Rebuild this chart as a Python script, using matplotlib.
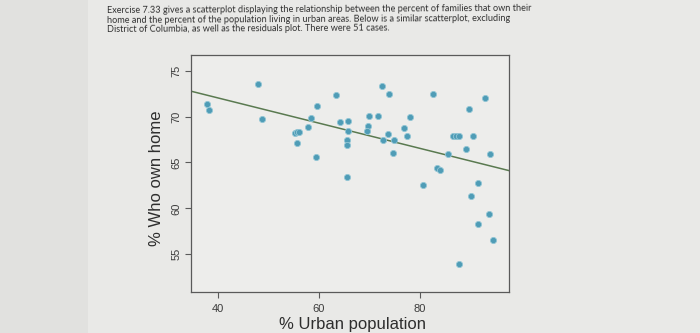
import matplotlib.pyplot as plt
import matplotlib.patches as mpatches
import numpy as np

# header text above the chart
header_lines = [
    "Exercise 7.33 gives a scatterplot displaying the relationship between the percent of families that own their",
    "home and the percent of the population living in urban areas. Below is a similar scatterplot, excluding",
    "District of Columbia, as well as the residuals plot. There were 51 cases.",
]

# % urban population vs % who own home (51 states)
urban = [37.8, 38.1, 47.8, 48.7, 55.3, 55.7, 56.1, 55.6, 57.8, 58.4,
         59.6, 59.5, 63.3, 64.2, 65.7, 65.8, 65.6, 65.6, 65.6, 70.0,
         69.8, 69.6, 71.8, 72.5, 73.8, 72.6, 73.6, 74.9, 74.6, 76.8,
         77.4, 78.0, 80.7, 82.6, 83.4, 84.1, 85.6, 86.5, 87.2, 87.8,
         89.2, 89.8, 90.5, 90.2, 91.5, 91.6, 93.0, 93.8, 94.0, 94.6,
         87.7]
own_home = [71.4, 70.7, 73.5, 69.7, 68.2, 68.3, 68.3, 67.1, 68.9, 69.8,
            71.2, 65.6, 72.3, 69.4, 69.5, 68.4, 67.4, 66.9, 63.4, 70.1,
            69.0, 68.4, 70.1, 73.3, 72.4, 67.5, 68.1, 67.5, 66.0, 68.8,
            67.9, 69.9, 62.6, 72.5, 64.4, 64.2, 65.9, 67.9, 67.9, 67.9,
            66.5, 70.8, 67.9, 61.3, 62.8, 58.3, 72.0, 59.4, 65.9, 56.6,
            54.0]

# least squares line
intercept = 77.5
slope = -0.137

x_ticks = [40, 60, 80]
y_ticks = [55, 60, 65, 70, 75]

plt.rcParams['font.family'] = ['Liberation Sans', 'DejaVu Sans']

fig = plt.figure(figsize=(7, 3.33), dpi=100)
fig.patch.set_facecolor('#e9e9e7')
# slightly darker strip on the left of the photo
fig.patches.append(mpatches.Rectangle((0, 0), 0.125, 1, transform=fig.transFigure,
                                      facecolor='#e1e1df', edgecolor='none', zorder=0))

for i, line in enumerate(header_lines):
    fig.text(107 / 700, 1 - (9 + i * 10) / 333, line, fontsize=6.6, color='#303030',
             family='Lato', va='center', ha='left', rotation=0.3)

ax = fig.add_axes([191 / 700, 1 - 292 / 333, 318 / 700, 237 / 333])
ax.set_facecolor('#ededeb')

ax.scatter(urban, own_home, s=20, color='#4f9cb6', edgecolors='#93c6d5', linewidths=0.6, zorder=3)

ax.set_xlim(34.6, 97.7)
ax.set_ylim(50.9, 76.7)
xs = np.array(ax.get_xlim())
ax.plot(xs, intercept + slope * xs, color='#5a7a50', lw=1.1, zorder=2)

for s in ax.spines.values():
    s.set_color('#5a5a5a')
    s.set_linewidth(0.9)

ax.set_xticks(x_ticks)
ax.set_yticks(y_ticks)
ax.tick_params(axis='both', direction='out', length=4.5, width=0.8, color='#5a5a5a',
               labelsize=8, labelcolor='#3c3c3c')
ax.tick_params(axis='x', pad=4.5)
ax.tick_params(axis='y', pad=2.5)
for lab in ax.get_yticklabels():
    lab.set_rotation(90)
    lab.set_va('center')

ax.set_xlabel('% Urban population', fontsize=12, color='#2e2e2e')
ax.xaxis.set_label_coords(0.508, -0.139)
ax.xaxis.label.set_va('center')
ax.set_ylabel('% Who own home', fontsize=12, color='#2e2e2e')
ax.yaxis.set_label_coords(-0.110, 0.481)
ax.yaxis.label.set_va('center')

fig.savefig('out.png', dpi=100, facecolor=fig.get_facecolor())
